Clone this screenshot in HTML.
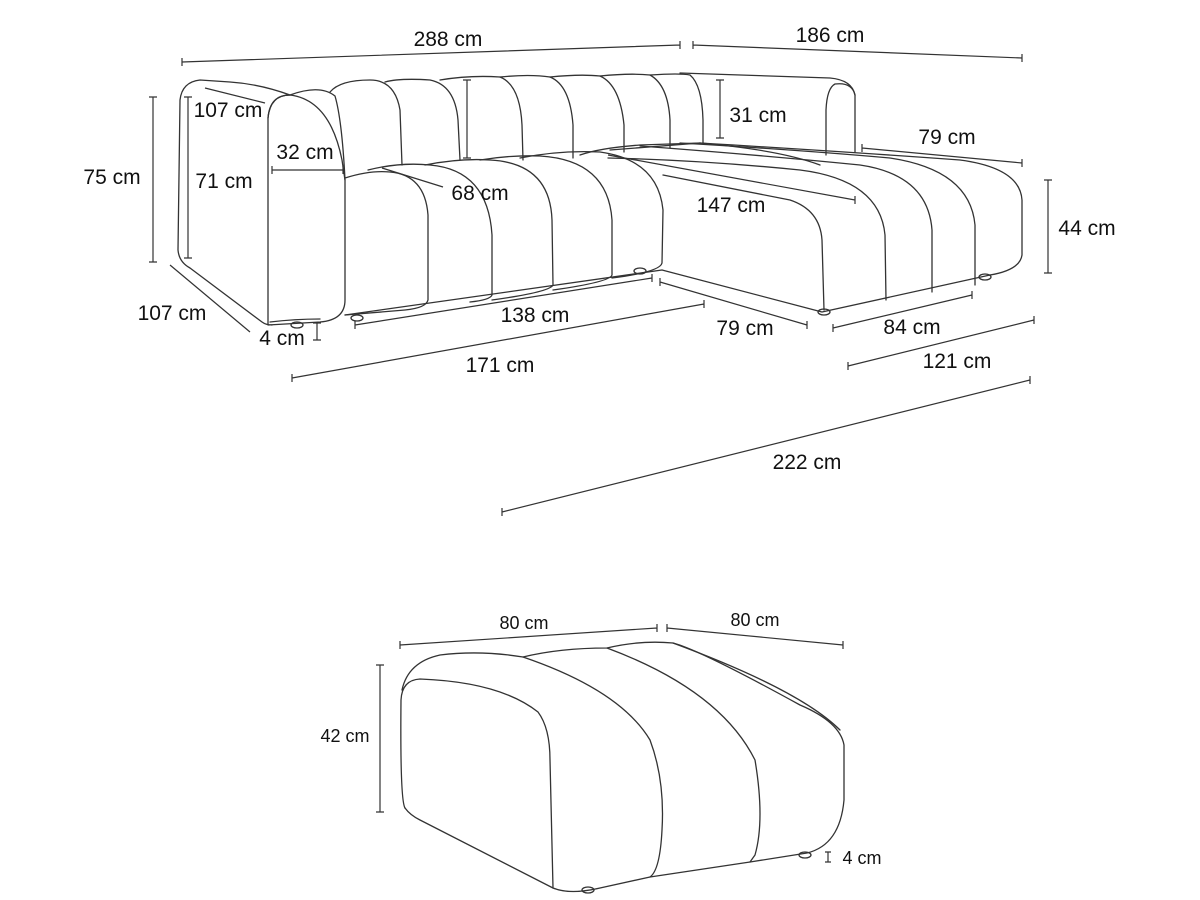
<!DOCTYPE html>
<html><head><meta charset="utf-8"><style>
html,body{margin:0;padding:0;background:#fff}
svg{display:block}
text{font-family:"Liberation Sans",sans-serif;fill:#111}
</style></head><body>
<svg width="1200" height="900" viewBox="0 0 1200 900">
<g fill="none" stroke="#333" stroke-width="1.3" stroke-linejoin="round" stroke-linecap="round">
<!-- left arm -->
<path d="M268,325 L268,118 Q270,95 290,95 Q330,100 342,160 L345,180 L345,300 Q345,320 320,322 Z" fill="#fff"/>
<path d="M268,118 Q270,95 290,95 Q260,84 230,82 L200,80 Q182,82 180,100 L178,250 Q179,262 190,268 L262,322 Q266,325 272,325"/>
<path d="M290,95 Q320,84 335,96 Q342,120 345,180"/>
<!-- back cushions -->
<path d="M330,92 Q340,80 370,80 Q395,80 400,110 L402,165"/>
<path d="M385,82 Q400,78 430,80 Q455,85 458,120 L460,160"/>
<path d="M440,80 Q470,75 500,77 Q520,85 522,125 L523,160"/>
<path d="M500,77 Q530,74 550,77 Q570,85 573,125 L573,158"/>
<path d="M550,77 Q580,74 600,76 Q620,85 624,125 L624,152"/>
<path d="M600,76 Q630,73 650,75 Q668,85 670,120 L670,148"/>
<path d="M650,75 Q680,73 690,75 Q702,85 703,120 L703,143"/>
<path d="M680,73 L830,78 Q852,80 855,95 L855,152"/>
<path d="M855,95 Q852,82 835,84 Q827,88 826,110 L826,155"/>
<!-- seat cushions -->
<path d="M345,178 Q370,170 390,172 Q425,175 428,215 L428,300 Q426,308 405,310 L345,315"/>
<path d="M368,170 Q400,162 430,165 Q488,170 492,235 L492,295 Q490,300 470,302"/>
<path d="M425,165 Q460,158 490,160 Q550,163 552,220 L553,285 Q550,292 492,300"/>
<path d="M480,160 Q510,155 540,156 Q608,160 612,220 L612,275 Q610,282 553,290"/>
<path d="M520,158 Q560,150 600,152 Q658,160 663,210 L662,263 Q660,272 612,278"/>
<path d="M345,315 L662,270"/>
<!-- chaise -->
<path d="M580,155 Q600,148 640,145 L700,143 Q780,150 820,165"/>
<path d="M610,150 L700,143"/>
<path d="M663,175 L790,200 Q820,210 822,240 L824,310"/>
<path d="M608,158 Q700,160 800,170 Q880,180 885,235 L886,300"/>
<path d="M640,146 Q760,155 860,165 Q928,175 932,230 L932,292"/>
<path d="M680,143 Q800,150 890,158 Q970,170 975,225 L975,285"/>
<path d="M700,143 Q850,152 960,160 Q1020,168 1022,200 L1022,255 Q1020,270 990,275"/>
<path d="M662,270 L822,312 L990,275"/>
<path d="M270,322 q25,-3 50,-3"/>
<ellipse cx="297" cy="325" rx="6" ry="3"/>
<ellipse cx="357" cy="318" rx="6" ry="3"/>
<ellipse cx="640" cy="271" rx="6" ry="3"/>
<ellipse cx="824" cy="312" rx="6" ry="3"/>
<ellipse cx="985" cy="277" rx="6" ry="3"/>
<!-- ottoman -->
<path d="M405,808 Q400,800 401,700 Q402,680 420,679 Q500,682 538,712 Q550,728 550,760 L553,888 Q570,895 600,888 L650,877 L750,862 L807,853 Q840,845 844,800 L844,745 Q840,722 800,705 Q700,650 673,643 Q640,640 607,648 Q560,648 523,657 Q480,650 440,655 Q408,662 402,690"/>
<path d="M405,808 Q410,815 420,820 L553,888"/>
<path d="M523,657 Q620,690 650,740 Q665,780 662,830 Q660,870 650,877"/>
<path d="M607,648 Q720,690 755,760 Q765,820 755,855 L750,862"/>
<path d="M673,643 Q800,690 840,730"/>
<ellipse cx="588" cy="890" rx="6" ry="3"/>
<ellipse cx="805" cy="855" rx="6" ry="3"/>
</g>
<!-- dimension lines -->
<g fill="none" stroke="#333" stroke-width="1.2">
<path d="M182,62 L680,45 M182,58v8 M680,41v8"/>
<path d="M693,45 L1022,58 M693,41v8 M1022,54v8"/>
<path d="M153,97 V262 M149,97h8 M149,262h8"/>
<path d="M205,88 L265,103"/>
<path d="M188,97 V258 M184,97h8 M184,258h8"/>
<path d="M272,170 H343 M272,166v8 M343,166v8"/>
<path d="M382,168 L443,187"/>
<path d="M467,80 V158 M463,80h8 M463,158h8"/>
<path d="M720,80 V138 M716,80h8 M716,138h8"/>
<path d="M862,148 L1022,163 M862,144v8 M1022,159v8"/>
<path d="M608,155 L855,200 M855,196v8"/>
<path d="M1048,180 V273 M1044,180h8 M1044,273h8"/>
<path d="M170,265 L250,332"/>
<path d="M317,323 V340 M313,323h8 M313,340h8"/>
<path d="M355,325 L652,278 M355,321v8 M652,274v8"/>
<path d="M660,282 L807,325 M660,278v8 M807,321v8"/>
<path d="M833,328 L972,295 M833,324v8 M972,291v8"/>
<path d="M292,378 L704,304 M292,374v8 M704,300v8"/>
<path d="M848,366 L1034,320 M848,362v8 M1034,316v8"/>
<path d="M502,512 L1030,380 M502,508v8 M1030,376v8"/>
<path d="M400,645 L657,628 M400,641v8 M657,624v8"/>
<path d="M667,628 L843,645 M667,624v8 M843,641v8"/>
<path d="M380,665 V812 M376,665h8 M376,812h8"/>
<path d="M828,852 V862 M825,852h6 M825,862h6"/>
</g>
<g font-size="21">
<text x="448" y="46" text-anchor="middle">288 cm</text>
<text x="830" y="42" text-anchor="middle">186 cm</text>
<text x="112" y="184" text-anchor="middle">75 cm</text>
<text x="228" y="117" text-anchor="middle">107 cm</text>
<text x="224" y="188" text-anchor="middle">71 cm</text>
<text x="305" y="159" text-anchor="middle">32 cm</text>
<text x="480" y="200" text-anchor="middle">68 cm</text>
<text x="758" y="122" text-anchor="middle">31 cm</text>
<text x="947" y="144" text-anchor="middle">79 cm</text>
<text x="731" y="212" text-anchor="middle">147 cm</text>
<text x="1087" y="235" text-anchor="middle">44 cm</text>
<text x="172" y="320" text-anchor="middle">107 cm</text>
<text x="282" y="345" text-anchor="middle">4 cm</text>
<text x="535" y="322" text-anchor="middle">138 cm</text>
<text x="745" y="335" text-anchor="middle">79 cm</text>
<text x="912" y="334" text-anchor="middle">84 cm</text>
<text x="500" y="372" text-anchor="middle">171 cm</text>
<text x="957" y="368" text-anchor="middle">121 cm</text>
<text x="807" y="469" text-anchor="middle">222 cm</text>
</g>
<g font-size="18">
<text x="524" y="629" text-anchor="middle">80 cm</text>
<text x="755" y="626" text-anchor="middle">80 cm</text>
<text x="345" y="742" text-anchor="middle">42 cm</text>
<text x="862" y="864" text-anchor="middle">4 cm</text>
</g>
</svg>
</body></html>
